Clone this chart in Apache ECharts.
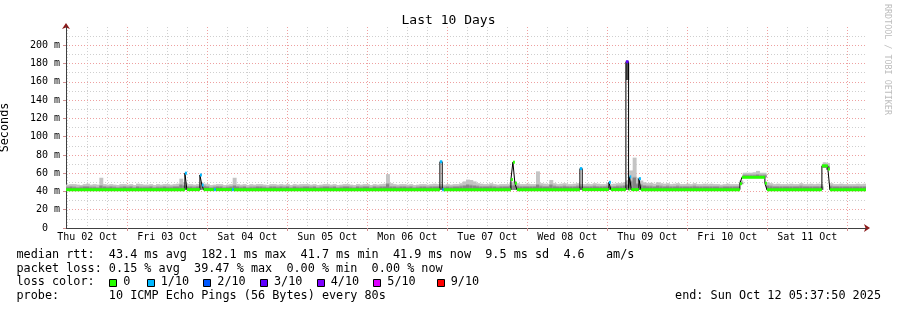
<!DOCTYPE html>
<html><head><meta charset="utf-8">
<script src="https://cdn.jsdelivr.net/npm/echarts@6/dist/echarts.min.js"></script>
<style>html,body{margin:0;padding:0;background:#fff}#c{width:897px;height:310px}</style>
</head><body><div id="c"></div>
<script>
// ---------- data ----------
const TITLE = 'Last 10 Days';
const START_H = 5.6306;   // Thu 02 Oct 05:37:50 (hours since Thu 02 Oct 00:00)
const END_H = 245.6306;   // Sun 12 Oct 05:37:50
const DAY_LABELS = ['Thu 02 Oct','Fri 03 Oct','Sat 04 Oct','Sun 05 Oct','Mon 06 Oct','Tue 07 Oct','Wed 08 Oct','Thu 09 Oct','Fri 10 Oct','Sat 11 Oct'];
const DAY_NOON = [12,36,60,84,108,132,156,180,204,228];
const DAY_MIDNIGHT = [24,48,72,96,120,144,168,192,216,240];
const SIX_HOURS = [6,18,30,42,54,66,78,90,102,114,126,138,150,162,174,186,198,210,222,234,12,36,60,84,108,132,156,180,204,228];
const Y_TICKS = [0,20,40,60,80,100,120,140,160,180,200];
const Y_MINOR = [10,30,50,70,90,110,130,150,170,190,210];

const LOSS_LABELS = ['0','1/10','2/10','3/10','4/10','5/10','9/10'];
const LOSS_COLORS = ['#26ff00','#00b8ff','#0059ff','#5e00ff','#7e00ff','#dd00ff','#ff0000'];

// median rtt (ms) as steps: value holds from MEDIAN_T[i] to MEDIAN_T[i+1]
const MEDIAN_T = [5.63,41.3,41.9,45.8,46.4,46.9,50.0,50.6,55.4,56.0,117.8,118.5,119.0,139.1,139.7,140.3,140.9,159.8,160.5,168.5,169.1,173.6,174.4,174.7,175.2,177.5,178.1,207.8,208.4,215.3,215.9,232.4,234.2,234.8,245.63];
const MEDIAN_V = [42,60,42,58,47,42,42,42,42,42,72.5,42,42,53,72,49,42,65,42,50,42,182,42,56,42,54,42,48.5,55.5,49,42,68,64.5,42,42];
const MEDIAN_LOSS = [0,1,0,1,1,0,1,0,1,0,1,1,0,0,0,0,0,1,0,1,0,3,0,1,0,1,0,0,0,0,0,0,0,0,0];

// hourly smoke (ms), starting at START_H
const SMOKE_HI = [
 47.5,48,48,47.5,47,48,48.5,47.5,48,47.5,55,48,47.5,48,47.5,47,48,48,47.5,48,47,48.5,48,47.5,
 47.5,48,47,48,47.5,48,48,47.5,48,48.5,54,50,48,48,47.5,48,50,48.5,48,47,47.5,48,48,47,
 47.5,48,55,48,47.5,48,47,48,47.5,48,48,47.5,47,48,48,47.5,48,47.5,48,47,48,47.5,48,48,
 48,47.5,48,47,47.5,48,48,47.5,48,47,47.5,48,48,47.5,47,48,47.5,48,48,47,48,47.5,48,48.5,
 59,49,48,47.5,48,48,47.5,48,47,47.5,48,48,47.5,48,48.5,48,48,47.5,48,47.5,48,48,49,51,
 53,52.5,51,49,48.5,48,48,49,48,47.5,48,48,48,50,51,49,48,48,48.5,48,48,62,49,48.5,
 48,52.5,49,48,48.5,49,48,48,48.5,49,48,48,48.5,48,49,48.5,48,48,49,48,48.5,49,49,50,
 52,63,77,55,52,50,49,49.5,48.5,50,49,48.5,49,48,48.5,49,48,48,48.5,48,49,48,48,48.5,
 48,48.5,48,48,47.5,48,48.5,48,48,48,52,60.5,60.5,60.5,61,62.5,60.5,60.5,50,49,48,48.5,48,48,
 48,48.5,48,48,49,48,48,48.5,48,48.5,48,72,71,49,48,48,48.5,48,48,48,48,48.5,48,48.5
];
const SMOKE_MID = [
 45.5,46,45.5,45,45.5,46,46,45.5,45.5,45,47,46,45.5,46,45.5,45,45.5,46,45.5,46,45,46,45.5,45.5,
 45.5,46,45,45.5,45.5,46,45.5,45.5,46,46,48,47,46,46,45.5,46,47,46.5,46,45,45.5,46,46,45,
 45.5,46,47,46,45.5,46,45,45.5,45.5,46,46,45.5,45,46,46,45.5,46,45.5,46,45,46,45.5,45.5,46,
 46,45.5,46,45,45.5,46,46,45.5,46,45,45.5,46,46,45.5,45,46,45.5,46,46,45,46,45.5,46,46,
 49,46,46,45.5,46,46,45.5,46,45,45.5,46,46,45.5,46,46,46,46,45.5,46,45.5,46,46,46.5,47,
 48,47.5,47,46.5,46,46,46,46.5,46,45.5,46,46,46,47,47.5,46.5,46,46,46,46,46,48,46.5,46,
 46,48,46.5,46,46,46.5,46,46,46,46.5,46,46,46,46,46.5,46,46,46,46.5,46,46,46.5,46.5,47,
 48,52,56,49,48,47,46.5,46.5,46,47,46.5,46,46.5,46,46,46.5,46,46,46,46,46.5,46,46,46,
 46,46,46,46,45.5,46,46,46,46,46,50,58.5,58.5,58.5,58.5,59,58.5,58.5,47,46.5,46,46,46,46,
 46,46,46,46,46.5,46,46,46,46,46,46,69.5,68,46.5,46,46,46,46,46,46,46,46,46,46
];
const SMOKE_LO_BASE = 41.7;
const SMOKE_LO_RAISED = [[202,48],[203,55.5],[204,55.5],[205,55.5],[206,55.5],[207,55.5],[208,55.5],[209,55.5],[227,66],[228,64]];
// dense smoke inside the big spike [from h, to h, lo ms, hi ms]
const SPIKE_SMOKE = [[173.6,174.4,162,181]];

const INFO_LINES = [
 'median rtt:  43.4 ms avg  182.1 ms max  41.7 ms min  41.9 ms now  9.5 ms sd  4.6   am/s',
 'packet loss: 0.15 % avg  39.47 % max  0.00 % min  0.00 % now',
 'loss color:',
 'probe:       10 ICMP Echo Pings (56 Bytes) every 80s'
];
const END_TEXT = 'end: Sun Oct 12 05:37:50 2025';
const CREDIT = 'RRDTOOL / TOBI OETIKER';

// ---------- build ----------
const MONO = '"DejaVu Sans Mono", monospace';
const loMap = {};
SMOKE_LO_RAISED.forEach(([k, v]) => { loMap[k] = v; });
const smokeData = SMOKE_HI.map((hi, k) => [START_H + k, START_H + k + 1, (k in loMap) ? loMap[k] : SMOKE_LO_BASE, SMOKE_MID[k], hi]);
const medSeg = MEDIAN_T.slice(0, -1).map((t, i) => [t, MEDIAN_T[i + 1], MEDIAN_V[i], MEDIAN_LOSS[i]]);
const medLine = MEDIAN_T.map((t, i) => [t, MEDIAN_V[i]]);

function band(api, t0, t1, a, b, fill) {
  const p0 = api.coord([t0, b]), p1 = api.coord([t1, a]);
  return { type: 'rect', shape: { x: p0[0], y: p0[1], width: p1[0] - p0[0] + 0.6, height: Math.max(0, p1[1] - p0[1]) }, style: { fill } };
}
function renderSmoke(params, api) {
  const t0 = api.value(0), t1 = api.value(1), lo = api.value(2), mid = api.value(3), hi = api.value(4);
  return { type: 'group', children: [
    band(api, t0, t1, lo, hi, '#c4c4c4'),
    band(api, t0, t1, lo, mid, '#a2a2a2'),
    band(api, t0, t1, lo, mid - 1.2, '#848484')
  ] };
}
function renderSpikeSmoke(params, api) {
  return band(api, api.value(0), api.value(1), api.value(2), api.value(3), '#505050');
}
function renderMedian(params, api) {
  const v = api.value(2);
  const p0 = api.coord([api.value(0), v]), p1 = api.coord([api.value(1), v]);
  return { type: 'rect', shape: { x: p0[0], y: p0[1] - 1.5, width: p1[0] - p0[0], height: 3 }, style: { fill: LOSS_COLORS[api.value(3)] } };
}

const GRID_MINOR = '#cfcfcf', GRID_MAJOR = '#eea0a0', AXIS_COL = '#404040', ARROW_COL = '#8b1a1a';
const yFmt = v => v === 0 ? '  0  ' : (String(v).padStart(3, ' ') + ' m');
const xFmt = v => { const i = DAY_NOON.indexOf(Math.round(v)); return i >= 0 ? DAY_LABELS[i] : ''; };

const graphic = [];
INFO_LINES.forEach((t, i) => {
  graphic.push({ type: 'text', x: 16.5, y: 255 + i * 13.6, style: { text: t, font: '11.8px ' + MONO, fill: '#000', textVerticalAlign: 'middle', verticalAlign: 'middle' } });
});
const SQ_X = [109.3, 146.7, 203.3, 260, 316.7, 373.3, 436.7];
LOSS_LABELS.forEach((lab, i) => {
  graphic.push({ type: 'rect', shape: { x: Math.round(SQ_X[i]) + 0.5, y: 279.5, width: 7, height: 7 }, style: { fill: LOSS_COLORS[i], stroke: '#000', lineWidth: 1 } });
  graphic.push({ type: 'text', x: SQ_X[i] + 14, y: 282.2, style: { text: lab, font: '11.8px ' + MONO, fill: '#000', textVerticalAlign: 'middle', verticalAlign: 'middle' } });
});
graphic.push({ type: 'text', x: 881, y: 296, style: { text: END_TEXT, font: '11.8px ' + MONO, fill: '#000', textAlign: 'right', align: 'right', textVerticalAlign: 'middle', verticalAlign: 'middle' } });
graphic.push({ type: 'text', x: 887, y: 4, rotation: -Math.PI / 2, style: { text: CREDIT, font: '8.4px ' + MONO, fill: '#bdbdbd', textVerticalAlign: 'middle', verticalAlign: 'middle' } });

const chart = echarts.init(document.getElementById('c'), null, { renderer: 'canvas' });
chart.setOption({
  animation: false,
  backgroundColor: '#fff',
  title: { text: TITLE, left: 'center', top: 9, textStyle: { fontFamily: MONO, fontSize: 13, fontWeight: 'normal', color: '#000' } },
  grid: { left: 66, right: 31, top: 27, bottom: 82, containLabel: false, outerBoundsMode: 'none' },
  xAxis: [
    { type: 'value', min: START_H, max: END_H, position: 'bottom', z: 1,
      axisLine: { show: true, onZero: false, lineStyle: { color: AXIS_COL, width: 1 } },
      axisTick: { show: true, customValues: DAY_MIDNIGHT, length: 3, lineStyle: { color: '#d09090' } },
      splitLine: { show: true, lineStyle: { color: GRID_MAJOR, type: [1, 2], width: 1 } },
      axisLabel: { customValues: DAY_NOON, formatter: xFmt, margin: 4, fontFamily: MONO, fontSize: 10, color: '#000' } },
    { type: 'value', min: START_H, max: END_H, position: 'bottom', z: 0,
      axisLine: { show: false }, axisLabel: { show: false },
      axisTick: { show: false, customValues: SIX_HOURS },
      splitLine: { show: true, lineStyle: { color: GRID_MINOR, type: [1, 2], width: 1 } } },
    { type: 'value', min: START_H, max: END_H, position: 'bottom', z: 0,
      axisLine: { show: true, onZero: false, symbol: ['none', 'arrow'], symbolSize: [6, 6], symbolOffset: [0, 4], lineStyle: { color: ARROW_COL } },
      axisLabel: { show: false }, axisTick: { show: false }, splitLine: { show: false } }
  ],
  yAxis: [
    { type: 'value', min: 0, max: 220, position: 'left', z: 1,
      name: 'Seconds', nameLocation: 'middle', nameGap: 55, nameRotate: 90,
      nameTextStyle: { fontFamily: MONO, fontSize: 11.8, color: '#000' },
      axisLine: { show: true, onZero: false, lineStyle: { color: AXIS_COL, width: 1 } },
      axisTick: { show: true, customValues: Y_TICKS, length: 3, lineStyle: { color: '#d09090' } },
      splitLine: { show: true, lineStyle: { color: GRID_MAJOR, type: [1, 2], width: 1 } },
      axisLabel: { customValues: Y_TICKS, formatter: yFmt, margin: 6, fontFamily: MONO, fontSize: 10, color: '#000' } },
    { type: 'value', min: 0, max: 220, position: 'left', z: 0,
      axisLine: { show: false }, axisLabel: { show: false },
      axisTick: { show: false, customValues: Y_MINOR },
      splitLine: { show: true, lineStyle: { color: GRID_MINOR, type: [1, 2], width: 1 } } },
    { type: 'value', min: 0, max: 220, position: 'left', z: 0,
      axisLine: { show: true, onZero: false, symbol: ['none', 'arrow'], symbolSize: [6, 6], symbolOffset: [0, 4], lineStyle: { color: ARROW_COL } },
      axisLabel: { show: false }, axisTick: { show: false }, splitLine: { show: false } }
  ],
  series: [
    { type: 'custom', name: 'smoke', xAxisIndex: 0, yAxisIndex: 0, data: smokeData, renderItem: renderSmoke,
      encode: { x: [0, 1], y: [2, 4] }, clip: true, z: 2, silent: true },
    { type: 'custom', name: 'spike smoke', xAxisIndex: 0, yAxisIndex: 0, data: SPIKE_SMOKE, renderItem: renderSpikeSmoke,
      encode: { x: [0, 1], y: [2, 3] }, clip: true, z: 3, silent: true },
    { type: 'line', name: 'median step', xAxisIndex: 0, yAxisIndex: 0, data: medLine, step: 'end', symbol: 'none',
      lineStyle: { color: '#000', width: 1 }, z: 4, silent: true },
    { type: 'custom', name: 'median', xAxisIndex: 0, yAxisIndex: 0, data: medSeg, renderItem: renderMedian,
      encode: { x: [0, 1], y: 2 }, clip: true, z: 5, silent: true }
  ],
  graphic: graphic
});
</script></body></html>
